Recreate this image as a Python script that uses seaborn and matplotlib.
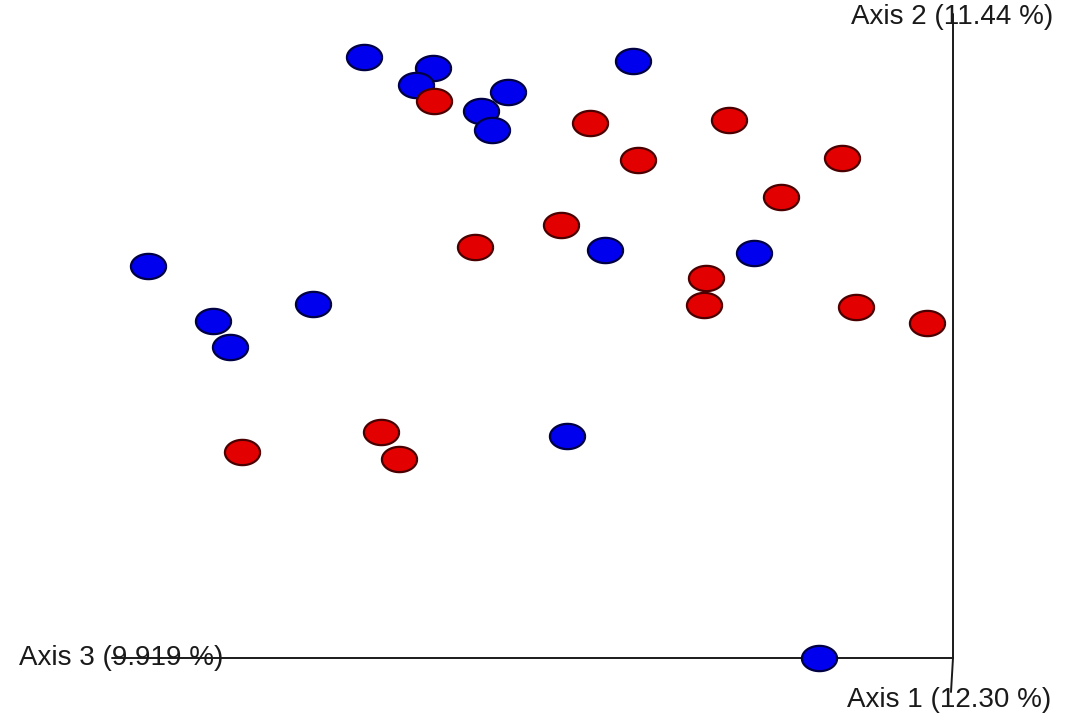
import numpy as np
import pandas as pd
import matplotlib
matplotlib.use("Agg")
import matplotlib.pyplot as plt
from matplotlib.path import Path
from matplotlib.markers import MarkerStyle
import seaborn as sns

# point positions (screen-like units, y grows downward)
blue_x = [364, 433, 416, 508, 481, 492, 633, 148, 313, 213, 230, 605, 754, 567, 819]
blue_y = [57, 68, 85, 92, 111, 130, 61, 266, 304, 321, 347, 250, 253, 436, 658]
red_x = [434, 590, 729, 638, 842, 781, 561, 475, 706, 704, 856, 927, 381, 242, 399]
red_y = [101, 123, 120, 160, 158, 197, 225, 247, 278, 305, 307, 323, 432, 452, 459]

axis_labels = ["Axis 1 (12.30 %)", "Axis 2 (11.44 %)", "Axis 3 (9.919 %)"]

df = pd.concat([
    pd.DataFrame({"x": blue_x, "y": blue_y, "group": "blue"}),
    pd.DataFrame({"x": red_x, "y": red_y, "group": "red"}),
])

sns.set_style("white")
plt.rcParams["font.family"] = ["Liberation Sans", "DejaVu Sans"]

fig = plt.figure(figsize=(10.74, 7.18), dpi=100)
ax = fig.add_axes([0, 0, 1, 1])
ax.set_xlim(0, 1074)
ax.set_ylim(718, 0)
ax.axis("off")

# flattened ellipse marker (the original is stretched sideways)
t = np.linspace(0, 2 * np.pi, 60)
ellipse = MarkerStyle(Path(np.column_stack([np.cos(t), 0.72 * np.sin(t)])))

# axis lines
ox, oy = 953, 658
ax.plot([ox, 112], [oy, oy], color="#1a1a1a", lw=1.4, zorder=1)
ax.plot([ox, ox], [oy, 14], color="#1a1a1a", lw=1.4, zorder=1)
ax.plot([ox, ox - 2], [oy, 692], color="#1a1a1a", lw=1.4, zorder=1)

styles = {"blue": ("#0000ee", "#000044"), "red": ("#e20000", "#4a0000")}
for g, (fc, ec) in styles.items():
    sub = df[df["group"] == g]
    sns.scatterplot(data=sub, x="x", y="y", ax=ax, color=fc, edgecolor=ec,
                    linewidth=1.6, marker=ellipse, s=640, zorder=3, legend=False)

txt = dict(ha="center", va="center", fontsize=20, color="#1a1a1a")
ax.text(949, 700, axis_labels[0], **txt)
ax.text(952, 17, axis_labels[1], **txt)
ax.text(121, 658, axis_labels[2], **txt)

ax.set_xlabel("")
ax.set_ylabel("")
fig.savefig("out.png", dpi=100)
